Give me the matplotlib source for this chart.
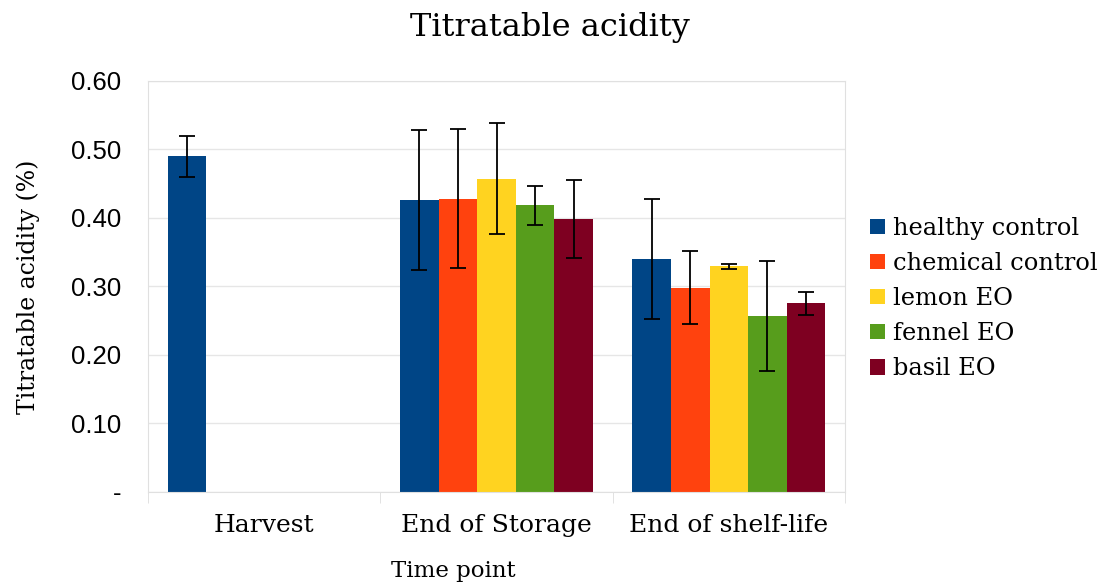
import numpy as np
import matplotlib

matplotlib.use("Agg")
import matplotlib.pyplot as plt

timepoints = ["Harvest", "End of Storage", "End of shelf-life"]
treatments = ["healthy control", "chemical control", "lemon EO", "fennel EO", "basil EO"]
# rows: treatments, columns: time points (NaN = not measured)
means = [
    [0.49, 0.426, 0.340],
    [np.nan, 0.428, 0.298],
    [np.nan, 0.457, 0.329],
    [np.nan, 0.418, 0.257],
    [np.nan, 0.398, 0.275],
]
errors = [
    [0.030, 0.102, 0.087],
    [np.nan, 0.101, 0.053],
    [np.nan, 0.081, 0.003],
    [np.nan, 0.029, 0.080],
    [np.nan, 0.057, 0.017],
]
colors = ["#004586", "#ff420e", "#ffd320", "#579d1c", "#7e0021"]
yticks = [0, 0.1, 0.2, 0.3, 0.4, 0.5, 0.6]
ytick_labels = ["-", "0.10", "0.20", "0.30", "0.40", "0.50", "0.60"]

serif = "DejaVu Serif"
sans = "Liberation Sans"

fig = plt.figure(figsize=(11.1, 5.85), dpi=100)
ax = fig.add_axes([0.1333, 0.159, 0.628, 0.703])

x = np.arange(len(timepoints))
width = 0.166
for i, (name, m, e, c) in enumerate(zip(treatments, means, errors, colors)):
    pos = x + (i - 2) * width
    ax.bar(pos, m, width, color=c, label=name, zorder=2)
    ax.errorbar(pos, m, yerr=e, fmt="none", ecolor="black", elinewidth=1.3,
                capsize=6, capthick=1.3, zorder=3)

ax.set_xlim(-0.5, 2.5)
ax.set_ylim(0, 0.6)
ax.set_yticks(yticks)
ax.set_yticklabels(ytick_labels, fontfamily=sans, fontsize=18.5)
ax.set_xticks(x)
ax.set_xticklabels(timepoints, fontfamily=serif, fontsize=18)
ax.tick_params(axis="x", length=0, pad=16)
ax.tick_params(axis="y", length=0, pad=19.5)
ax.set_xticks([-0.5, 0.5, 1.5, 2.5], minor=True)
ax.tick_params(axis="x", which="minor", length=8, color="#dddddd")

ax.grid(axis="y", color="#e6e6e6", linewidth=1, zorder=0)
for s in ax.spines.values():
    s.set_color("#e0e0e0")

ax.set_ylabel("Titratable acidity (%)", fontfamily=serif, fontsize=17)
ax.yaxis.set_label_coords(-0.155, 0.5)
ax.set_xlabel("Time point", fontfamily=serif, fontsize=16.5)
ax.xaxis.set_label_coords(0.438, -0.165)
fig.suptitle("Titratable acidity", fontfamily=serif, fontsize=23, x=0.495, y=0.98)

ax.legend(loc="center left", bbox_to_anchor=(1.005, 0.47), frameon=False,
          prop={"family": serif, "size": 17.4}, handlelength=0.6, handleheight=0.6,
          handletextpad=0.35, labelspacing=0.5)

fig.savefig("out.png", dpi=100)
